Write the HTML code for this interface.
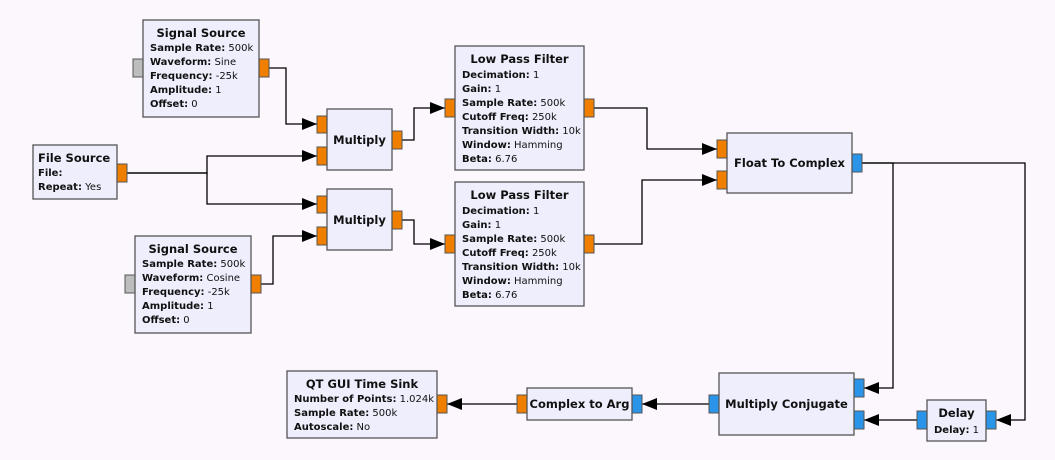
<!DOCTYPE html>
<html><head><meta charset="utf-8"><style>
html,body{margin:0;padding:0;background:#fcf7fc;}
svg{display:block;font-family:"DejaVu Sans","Liberation Sans",sans-serif;}
.b{fill:#eeeefc;stroke:#555;stroke-width:1.3}
.o{fill:#f07f00;stroke:#555;stroke-width:1}
.c{fill:#2a95e8;stroke:#555;stroke-width:1}
.g{fill:#bdbdbd;stroke:#555;stroke-width:1}
.w{fill:none;stroke:#000;stroke-width:1.3}
.t{font-size:11.5px;font-weight:bold;fill:#111}
.p{font-size:10px;fill:#111}
.p tspan.k{font-weight:bold}
</style></head><body>
<svg width="1055" height="460" viewBox="0 0 1055 460">
<defs>
<marker id="ar" markerWidth="16" markerHeight="12" refX="15" refY="6" orient="auto" markerUnits="userSpaceOnUse"><path d="M0,0 L15,6 L0,12 z" fill="#000"/></marker>
</defs>
<g class="w" marker-end="url(#ar)">
<path d="M269,68 H286 V124 H317"/>
<path d="M127,173 H207 V156 H317"/>
<path d="M127,173 H207 V204 H317"/>
<path d="M261,284 H273 V236 H317"/>
<path d="M402,140 H414 V108 H445"/>
<path d="M402,220 H414 V244 H445"/>
<path d="M594,108 H647 V149 H717"/>
<path d="M594,244 H642 V180 H717"/>
<path d="M862,163 H893 V388 H864"/>
<path d="M862,163 H1025 V420 H996"/>
<path d="M917,420 H864"/>
<path d="M709,404 H642"/>
<path d="M517,404 H447"/>
</g>
<rect class="g" x="133" y="59" width="10" height="18"/>
<rect class="o" x="259" y="59" width="10" height="18"/>
<rect class="b" x="143" y="20" width="116" height="97"/>
<text class="t" x="201" y="37" text-anchor="middle">Signal Source</text>
<text class="p" x="150" y="51"><tspan class="k">Sample Rate:</tspan> 500k</text>
<text class="p" x="150" y="65"><tspan class="k">Waveform:</tspan> Sine</text>
<text class="p" x="150" y="79"><tspan class="k">Frequency:</tspan> -25k</text>
<text class="p" x="150" y="93"><tspan class="k">Amplitude:</tspan> 1</text>
<text class="p" x="150" y="107"><tspan class="k">Offset:</tspan> 0</text>
<rect class="o" x="117" y="164" width="10" height="18"/>
<rect class="b" x="33" y="145" width="84" height="54"/>
<text class="t" x="38" y="162">File Source</text>
<text class="p" x="38" y="176"><tspan class="k">File:</tspan></text>
<text class="p" x="38" y="190"><tspan class="k">Repeat:</tspan> Yes</text>
<rect class="g" x="125" y="275" width="10" height="18"/>
<rect class="o" x="251" y="275" width="10" height="18"/>
<rect class="b" x="135" y="236" width="116" height="97"/>
<text class="t" x="193" y="253" text-anchor="middle">Signal Source</text>
<text class="p" x="142" y="267"><tspan class="k">Sample Rate:</tspan> 500k</text>
<text class="p" x="142" y="281"><tspan class="k">Waveform:</tspan> Cosine</text>
<text class="p" x="142" y="295"><tspan class="k">Frequency:</tspan> -25k</text>
<text class="p" x="142" y="309"><tspan class="k">Amplitude:</tspan> 1</text>
<text class="p" x="142" y="323"><tspan class="k">Offset:</tspan> 0</text>
<rect class="o" x="317" y="116" width="10" height="17"/>
<rect class="o" x="317" y="147" width="10" height="18"/>
<rect class="o" x="392" y="131" width="10" height="18"/>
<rect class="b" x="327" y="109" width="65" height="61"/>
<text class="t" x="359.5" y="144" text-anchor="middle">Multiply</text>
<rect class="o" x="317" y="196" width="10" height="17"/>
<rect class="o" x="317" y="227" width="10" height="18"/>
<rect class="o" x="392" y="211" width="10" height="18"/>
<rect class="b" x="327" y="189" width="65" height="61"/>
<text class="t" x="359.5" y="224" text-anchor="middle">Multiply</text>
<rect class="o" x="445" y="99" width="10" height="18"/>
<rect class="o" x="584" y="99" width="10" height="18"/>
<rect class="b" x="455" y="46" width="129" height="124"/>
<text class="t" x="519.5" y="63" text-anchor="middle">Low Pass Filter</text>
<text class="p" x="462" y="78"><tspan class="k">Decimation:</tspan> 1</text>
<text class="p" x="462" y="92"><tspan class="k">Gain:</tspan> 1</text>
<text class="p" x="462" y="106"><tspan class="k">Sample Rate:</tspan> 500k</text>
<text class="p" x="462" y="120"><tspan class="k">Cutoff Freq:</tspan> 250k</text>
<text class="p" x="462" y="134"><tspan class="k">Transition Width:</tspan> 10k</text>
<text class="p" x="462" y="148"><tspan class="k">Window:</tspan> Hamming</text>
<text class="p" x="462" y="162"><tspan class="k">Beta:</tspan> 6.76</text>
<rect class="o" x="445" y="235" width="10" height="18"/>
<rect class="o" x="584" y="235" width="10" height="18"/>
<rect class="b" x="455" y="182" width="129" height="124"/>
<text class="t" x="519.5" y="199" text-anchor="middle">Low Pass Filter</text>
<text class="p" x="462" y="214"><tspan class="k">Decimation:</tspan> 1</text>
<text class="p" x="462" y="228"><tspan class="k">Gain:</tspan> 1</text>
<text class="p" x="462" y="242"><tspan class="k">Sample Rate:</tspan> 500k</text>
<text class="p" x="462" y="256"><tspan class="k">Cutoff Freq:</tspan> 250k</text>
<text class="p" x="462" y="270"><tspan class="k">Transition Width:</tspan> 10k</text>
<text class="p" x="462" y="284"><tspan class="k">Window:</tspan> Hamming</text>
<text class="p" x="462" y="298"><tspan class="k">Beta:</tspan> 6.76</text>
<rect class="o" x="717" y="140" width="10" height="18"/>
<rect class="o" x="717" y="171" width="10" height="18"/>
<rect class="c" x="852" y="154" width="10" height="18"/>
<rect class="b" x="727" y="133" width="125" height="60"/>
<text class="t" x="789.5" y="167" text-anchor="middle">Float To Complex</text>
<rect class="o" x="437" y="395" width="10" height="18"/>
<rect class="b" x="287" y="371" width="150" height="67"/>
<text class="t" x="362" y="388" text-anchor="middle">QT GUI Time Sink</text>
<text class="p" x="294" y="402"><tspan class="k">Number of Points:</tspan> 1.024k</text>
<text class="p" x="294" y="416"><tspan class="k">Sample Rate:</tspan> 500k</text>
<text class="p" x="294" y="430"><tspan class="k">Autoscale:</tspan> No</text>
<rect class="o" x="517" y="395" width="10" height="18"/>
<rect class="c" x="632" y="395" width="10" height="18"/>
<rect class="b" x="527" y="388" width="105" height="32"/>
<text class="t" x="579.5" y="408" text-anchor="middle">Complex to Arg</text>
<rect class="c" x="709" y="395" width="10" height="18"/>
<rect class="c" x="854" y="379" width="10" height="18"/>
<rect class="c" x="854" y="411" width="10" height="18"/>
<rect class="b" x="719" y="373" width="135" height="62"/>
<text class="t" x="786.5" y="408" text-anchor="middle">Multiply Conjugate</text>
<rect class="c" x="917" y="411" width="10" height="18"/>
<rect class="c" x="986" y="411" width="10" height="18"/>
<rect class="b" x="927" y="400" width="59" height="41"/>
<text class="t" x="956.5" y="417" text-anchor="middle">Delay</text>
<text class="p" x="934" y="433"><tspan class="k">Delay:</tspan> 1</text>
</svg>
</body></html>
